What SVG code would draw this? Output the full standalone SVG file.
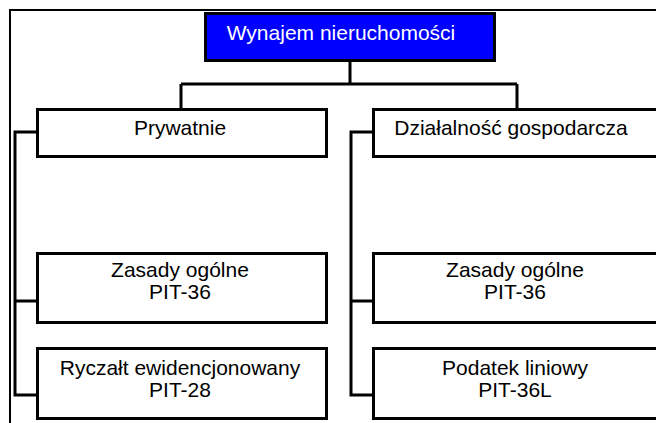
<svg xmlns="http://www.w3.org/2000/svg" width="656" height="423" viewBox="0 0 656 423">
<style>
.box{fill:#fff;stroke:#000;stroke-width:3}
.root{fill:#0000ff;stroke:#000;stroke-width:3}
.conn{fill:none;stroke:#000;stroke-width:3}
.frame{fill:none;stroke:#000;stroke-width:2}
text{font-family:"Liberation Sans",Arial,sans-serif;font-size:21px;text-anchor:middle;fill:#000}
.w{fill:#fff}
</style>
<rect width="656" height="423" fill="#fff"/>
<path class="frame" d="M10 423 V10 H656"/>
<g id="connectors">
<path class="conn" d="M350 61 V84 M181 84 H517 M181 84 V109 M517 84 V109"/>
<path class="conn" d="M37 132 H15 V395 H37 M15 301 H37"/>
<path class="conn" d="M373 132 H351 V395 H373 M351 301 H373"/>
</g>
<g id="root"><rect class="root" x="205.5" y="13.5" width="289" height="47"/><text class="w" x="341" y="40">Wynajem nieruchomości</text></g>
<g id="prywatne"><rect class="box" x="37.5" y="109.5" width="289" height="47"/><text x="180" y="135">Prywatnie</text></g>
<g id="dzialalnosc"><rect class="box" x="373.5" y="109.5" width="289" height="47"/><text x="511" y="135">Działalność gospodarcza</text></g>
<g id="zasady1"><rect class="box" x="37.5" y="253.5" width="289" height="69"/><text x="180" y="277">Zasady ogólne</text><text x="180" y="299">PIT-36</text></g>
<g id="ryczalt"><rect class="box" x="37.5" y="348.5" width="289" height="70"/><text x="180" y="375">Ryczałt ewidencjonowany</text><text x="180" y="397">PIT-28</text></g>
<g id="zasady2"><rect class="box" x="373.5" y="253.5" width="289" height="69"/><text x="515" y="277">Zasady ogólne</text><text x="515" y="299">PIT-36</text></g>
<g id="liniowy"><rect class="box" x="373.5" y="348.5" width="289" height="70"/><text x="515" y="375">Podatek liniowy</text><text x="515" y="397">PIT-36L</text></g>
</svg>
